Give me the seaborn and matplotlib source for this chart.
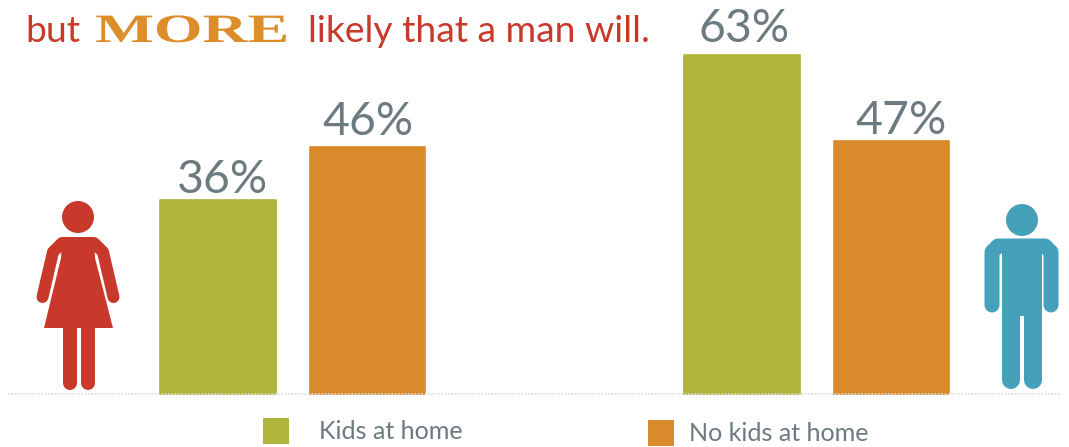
import matplotlib
matplotlib.use("Agg")
import matplotlib.pyplot as plt
import matplotlib.patheffects as pe
from matplotlib.patches import Circle, Polygon, Rectangle
from matplotlib.transforms import Affine2D
import pandas as pd
import seaborn as sns

# Survey shares by gender and household type
groups = ["Women", "Men"]
households = ["Kids at home", "No kids at home"]
kids_at_home = [36, 63]
no_kids_at_home = [46, 47]

GREEN = "#AFB43A"
ORANGE = "#D98A2A"
RED = "#C8392B"
BLUE = "#45A0B9"
GREY = "#6C7B80"
W, H = 1069, 447


class StretchX(pe.AbstractPathEffect):
    """Widen glyph outlines horizontally about a fixed display x."""

    def __init__(self, x0, factor):
        super().__init__()
        self.x0, self.factor = x0, factor

    def draw_path(self, renderer, gc, tpath, affine, rgbFace=None):
        stretch = Affine2D().translate(-self.x0, 0).scale(self.factor, 1).translate(self.x0, 0)
        renderer.draw_path(gc, tpath, affine + stretch, rgbFace)


sns.set_theme(style="white")
plt.rcParams["font.family"] = ["Lato", "DejaVu Sans"]

df = pd.DataFrame({
    "group": groups * 2,
    "household": [households[0]] * 2 + [households[1]] * 2,
    "share": kids_at_home + no_kids_at_home,
})

fig = plt.figure(figsize=(W / 100, H / 100), dpi=100)
ax = fig.add_axes([0, 0, 1, 1])
sns.barplot(
    data=df, x="group", y="share", hue="household", order=groups,
    hue_order=households, palette=[GREEN, ORANGE], width=0.569, gap=0.225,
    saturation=1, legend=False, ax=ax,
)
ax.set_xlim(-292.8 / 524, (W - 292.8) / 524)
ax.set_ylim(-(H - 394) / 5.38, 394 / 5.38)
ax.axis("off")

# Slightly softened bar corners
for bars in ax.containers:
    for bar in bars:
        bar.set_edgecolor(bar.get_facecolor())
        bar.set_linewidth(1.2)
        bar.set_joinstyle("round")

# Value labels sit above their bars, nudged by a few pixels each
label_nudges = [[(4, 7), (2, 13)], [(1, 12), (10, 7)]]
for bars, nudges in zip(ax.containers, label_nudges):
    for bar, (dx, dy) in zip(bars, nudges):
        ax.annotate(
            f"{bar.get_height():.0f}%",
            (bar.get_x() + bar.get_width() / 2, bar.get_height()),
            xytext=(dx * 0.72, dy * 0.72), textcoords="offset points",
            ha="center", va="baseline", fontsize=33.5, color=GREY,
        )

# Overlay in pixel coordinates for the headline, icons and key
ov = fig.add_axes([0, 0, 1, 1], facecolor="none")
ov.set_xlim(0, W)
ov.set_ylim(H, 0)
ov.axis("off")

ov.plot([8, 1060], [394, 394], color="#DADADA", lw=1.2, ls=(0, (1, 1)), zorder=0)

ov.text(25, 42, "but", fontsize=26.8, color=RED, va="baseline")
ov.text(308, 42, "likely that a man will.", fontsize=26.8, color=RED, va="baseline")
ov.text(
    95, 42, "MORE", fontsize=29, color="#DE8D2B", va="baseline", weight="bold",
    family="Liberation Serif", path_effects=[StretchX(95, 1.55)],
)


def px(points):
    return points * 0.72


def limb(xs, ys, width, color):
    ov.plot(xs, ys, color=color, lw=px(width), solid_capstyle="round",
            solid_joinstyle="round")


# Woman pictogram
ov.add_patch(Circle((78, 217), 16, color=RED, lw=0))
ov.add_patch(Polygon(
    [(62, 237), (94, 237), (95, 258), (113, 328), (44, 328), (61, 258)],
    closed=True, color=RED, lw=0,
))
limb([42.5, 53, 62], [297, 252, 243], 12, RED)
limb([113.5, 103, 94], [297, 252, 243], 12, RED)
limb([69.5, 69.5], [326, 383], 14, RED)
limb([88, 88], [326, 383], 14, RED)

# Man pictogram
ov.add_patch(Circle((1022, 220), 16, color=BLUE, lw=0))
limb([992, 992, 998, 1045, 1051, 1051], [305, 252, 246, 246, 252, 305], 15, BLUE)
ov.add_patch(Rectangle((1001.5, 239), 40.5, 77, color=BLUE, lw=0))
limb([1010.5, 1010.5], [316, 380], 18, BLUE)
limb([1032.5, 1032.5], [316, 380], 18, BLUE)

# Key
ov.add_patch(Rectangle((263, 418), 26, 26, color=GREEN, lw=0))
ov.add_patch(Rectangle((648, 420), 26, 26, color=ORANGE, lw=0))
ov.text(319, 439, households[0], fontsize=18.1, color=GREY, va="baseline")
ov.text(689, 441, households[1], fontsize=18.1, color=GREY, va="baseline")

fig.savefig("out.png", dpi=100, facecolor="white")
